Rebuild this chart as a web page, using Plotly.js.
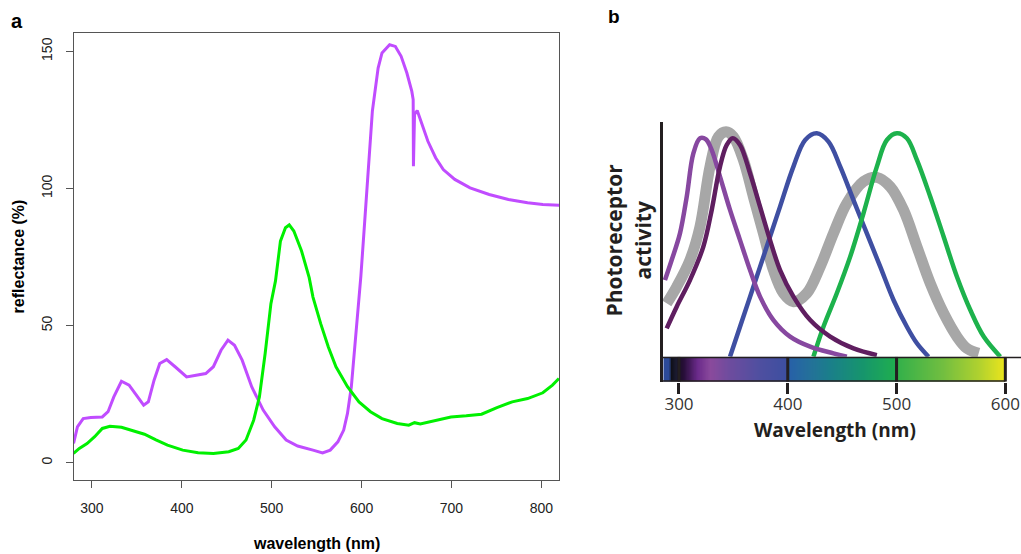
<!DOCTYPE html>
<html>
<head>
<meta charset="utf-8">
<script src="https://cdn.plot.ly/plotly-3.0.1.min.js"></script>
<style>html,body{margin:0;padding:0;background:#fff;}#chart{width:1021px;height:554px;}</style>
</head>
<body>
<div id="chart"></div>
<script>
// ---------- Panel a: reflectance spectra ----------
const purpleWl = [279.5,283.8,290.2,298.7,311.5,317.9,324.3,332.8,341.3,349.9,
  357.5,362.7,369.1,375.4,383.1,392.5,405.3,415.9,426.6,435.1,
  443.6,451.3,458.6,467.1,477.7,490.5,503.3,516.1,528.9,545.9,
  556.6,565.1,573.6,580.1,584.3,588.6,593.7,599.2,603.5,607.8,
  612.0,618.4,622.7,631.2,637.6,644.0,650.4,655.9,657.4,657.7,
  658.9,661.9,667.4,673.8,682.4,690.9,703.7,720.7,742.0,763.4,
  784.7,801.7,819.8];
const purpleRefl = [7.0,13.1,16.1,16.5,16.7,18.6,24.0,29.7,28.3,24.6,
  21.0,22.2,30.1,36.2,37.6,35.0,31.3,31.9,32.5,35.0,
  41.0,44.7,42.8,37.4,27.7,19.2,13.1,8.3,6.1,4.6,
  3.6,4.6,7.6,11.9,18.0,27.7,45.9,68.0,88.1,110.0,
  128.2,143.9,149.4,152.4,151.8,148.2,142.1,135.4,132.4,108.1,
  127.0,128.4,123.3,117.2,111.2,106.9,103.3,100.2,97.8,96.0,
  94.8,94.2,93.9];
const greenWl = [279.5,285.9,294.5,303.0,311.5,320.0,332.8,345.6,358.4,371.2,
  384.0,401.0,418.1,435.1,452.2,462.8,471.4,479.9,486.3,492.7,
  499.1,504.2,509.7,515.3,519.5,524.6,533.2,541.7,545.9,554.5,
  563.0,571.5,584.3,597.1,609.9,622.7,639.7,652.5,658.9,665.3,
  682.4,699.4,716.5,733.5,750.6,767.6,784.7,801.7,812.4,819.6];
const greenRefl = [3.4,5.2,7.0,9.5,12.5,13.3,12.9,11.7,10.4,8.3,
  6.4,4.6,3.6,3.4,4.0,5.2,8.3,15.5,24.0,39.8,
  58.0,66.3,80.8,85.7,86.7,84.5,77.2,67.5,60.4,50.7,
  42.2,35.0,27.7,22.2,18.6,16.1,14.3,13.7,14.6,14.1,
  15.5,16.7,17.1,17.7,20.1,22.2,23.4,25.5,28.3,30.7];
const aTicks = [300,400,500,600,700,800];
const aYTicks = [0,50,100,150];

// ---------- Panel b: photoreceptor sensitivity ----------
const lpWl  = [287.1,293.3,300.9,307.1,313.2,319.3,324.8,330.1,337.7,346.9,356.1,365.3,374.5,386.8,402.1,420.6,442.0,454.3];
const lpAct = [34.3,43.3,55.2,71.6,91.0,97.8,97.3,92.5,80.6,65.7,52.2,38.8,26.9,16.4,9.0,4.5,1.5,0];
const dpWl  = [288.7,297.9,310.1,322.4,330.1,337.7,343.9,349.4,356.1,365.3,374.5,383.7,392.9,405.2,420.6,439.0,460.4,481.9];
const dpAct = [12.7,22.4,34.3,49.3,65.7,85.1,94.8,97.8,94.8,82.1,67.2,52.2,38.8,26.9,16.4,9.0,3.7,0.7];
const greyWl  = [288.7,297.9,310.1,319.3,328.5,336.2,343.3,350.0,359.2,368.4,377.6,386.8,396.0,405.2,417.5,429.8,442.0,454.3,469.6,481.9,494.2,506.4,518.7,531.0,543.3,555.5,564.7,575.5];
const greyAct = [23.9,31.3,43.3,58.2,85.1,98.5,100.7,98.5,88.1,71.6,55.2,38.8,28.4,24.6,28.4,40.3,55.2,68.7,78.4,80.3,76.1,65.7,49.3,32.8,19.4,9.0,3.7,1.5];
const blueWl  = [346.9,356.1,368.4,380.7,392.9,405.2,416.0,426.7,437.4,448.2,460.4,472.7,485.0,497.2,509.5,518.7,529.4];
const blueAct = [0,13.4,31.3,49.3,67.2,85.1,97.0,100,96.3,85.1,70.1,55.2,40.3,25.4,13.4,6.0,0];
const gWl  = [423.6,432.8,445.1,457.4,469.6,481.9,491.1,500.3,509.5,518.7,531.0,543.3,555.5,567.8,580.1,595.4];
const gAct = [0,13.4,28.4,44.8,64.2,85.1,97.0,100,97.8,88.1,71.6,53.7,35.8,20.9,9.0,0];
const bTicks = [300,400,500,600];

// spectrum bar colour stops
const barWl = [286,291,293,297.5,300,305,317,329,347,374,399,401,420,439,469,499,501,543,577,600];
const barColors = ['#2c4a98','#2c4a98','#101018','#1a1a30','#1a0c26','#2a0f3c','#6a2a8a','#8a4a9c','#6d4c9e','#4f4fa0',
  '#3d4fa0','#2760a8','#24709a','#1a7f8a','#16956c','#1fae4f','#33b04a','#72be40','#b2d22e','#ece51c'];

// ---------- build ----------
const W = 1021, H = 554;
const px = v => v / W, py = v => 1 - v / H;

const bMin = barWl[0], bMax = barWl[barWl.length - 1];
const colorscale = barWl.map((w, i) => [(w - bMin) / (bMax - bMin), barColors[i]]);
const barX = [];
for (let w = bMin; w <= bMax; w += 0.5) barX.push(w);

const traces = [
  {x: purpleWl, y: purpleRefl, type: 'scatter', mode: 'lines', xaxis: 'x', yaxis: 'y',
   line: {color: '#c04cff', width: 3}, hoverinfo: 'skip'},
  {x: greenWl, y: greenRefl, type: 'scatter', mode: 'lines', xaxis: 'x', yaxis: 'y',
   line: {color: '#00f000', width: 3}, hoverinfo: 'skip'},

  {x: greyWl, y: greyAct, type: 'scatter', mode: 'lines', xaxis: 'x2', yaxis: 'y2',
   line: {color: '#a7a7a7', width: 11, shape: 'spline'}, hoverinfo: 'skip'},
  {x: blueWl, y: blueAct, type: 'scatter', mode: 'lines', xaxis: 'x2', yaxis: 'y2',
   line: {color: '#3f4fa2', width: 4.5, shape: 'spline'}, hoverinfo: 'skip'},
  {x: gWl, y: gAct, type: 'scatter', mode: 'lines', xaxis: 'x2', yaxis: 'y2',
   line: {color: '#1db24c', width: 4.5, shape: 'spline'}, hoverinfo: 'skip'},
  {x: lpWl, y: lpAct, type: 'scatter', mode: 'lines', xaxis: 'x2', yaxis: 'y2',
   line: {color: '#8748a0', width: 4.5, shape: 'spline'}, hoverinfo: 'skip'},
  {x: dpWl, y: dpAct, type: 'scatter', mode: 'lines', xaxis: 'x2', yaxis: 'y2',
   line: {color: '#5f1e60', width: 4.5, shape: 'spline'}, hoverinfo: 'skip'},

  {x: barX, y: [0.5], z: [barX], type: 'heatmap', xaxis: 'x2', yaxis: 'y3',
   colorscale: colorscale, zmin: bMin, zmax: bMax, showscale: false, hoverinfo: 'skip'}
];

const darkLine = '#231f20';
const shapes = [];
// spectrum bar outline
shapes.push({type: 'line', xref: 'x2', yref: 'y3', x0: 285.3, x1: 614.4, y0: 1, y1: 1, line: {color: darkLine, width: 3}});
shapes.push({type: 'line', xref: 'x2', yref: 'y3', x0: 285.3, x1: bTicks[bTicks.length - 1], y0: 0, y1: 0, line: {color: darkLine, width: 3}});
bTicks.forEach(t => shapes.push({type: 'line', xref: 'x2', yref: 'y3', x0: t, x1: t, y0: 0, y1: 1, line: {color: darkLine, width: 3}}));

const aFont = {family: 'Liberation Sans, Arial, sans-serif', size: 14, color: '#222'};
const bFont = {family: 'Open Sans, sans-serif', size: 17, color: '#333'};

const layout = {
  width: W, height: H,
  margin: {l: 0, r: 0, t: 0, b: 0},
  paper_bgcolor: '#fff', plot_bgcolor: 'rgba(0,0,0,0)',
  showlegend: false,
  xaxis: {domain: [px(74), px(559.3)], range: [280, 820], anchor: 'y',
    tickvals: aTicks, ticks: 'outside', ticklen: 7, tickcolor: '#555', tickwidth: 1,
    showline: true, mirror: true, linecolor: '#555', linewidth: 1,
    showgrid: false, zeroline: false, tickfont: aFont, ticklabelstandoff: 8},
  yaxis: {domain: [py(480), py(32.7)], range: [-6.3, 156.8], anchor: 'x',
    tickvals: aYTicks, ticks: 'outside', ticklen: 7, tickcolor: '#555', tickwidth: 1,
    showline: true, mirror: true, linecolor: '#555', linewidth: 1, tickangle: -90,
    showgrid: false, zeroline: false, tickfont: aFont, ticklabelstandoff: 8},
  xaxis2: {domain: [px(663), 1], range: [285.3, 614.4], anchor: 'y3',
    tickvals: bTicks, ticks: 'outside', ticklen: 11, tickwidth: 3, tickcolor: darkLine,
    showline: false, showgrid: false, zeroline: false, tickfont: bFont, ticklabelstandoff: -4},
  yaxis2: {domain: [py(356.7), py(121.7)], range: [0, 105.2], anchor: 'x2',
    showline: true, linecolor: darkLine, linewidth: 3, showticklabels: false, ticks: '',
    showgrid: false, zeroline: false},
  yaxis3: {domain: [py(381.7), py(356.7)], range: [0, 1], anchor: 'x2',
    showline: true, linecolor: darkLine, linewidth: 3, showticklabels: false, ticks: '',
    showgrid: false, zeroline: false, fixedrange: true},
  shapes: shapes,
  annotations: [
    {text: '<b>a</b>', xref: 'paper', yref: 'paper', x: px(16.7), y: py(21), showarrow: false,
     xanchor: 'center', yanchor: 'middle', font: {family: 'Liberation Sans, Arial, sans-serif', size: 20, color: '#000'}},
    {text: '<b>b</b>', xref: 'paper', yref: 'paper', x: px(613.5), y: py(17), showarrow: false,
     xanchor: 'center', yanchor: 'middle', font: {family: 'Liberation Sans, Arial, sans-serif', size: 19, color: '#000'}},
    {text: '<b>wavelength (nm)</b>', xref: 'paper', yref: 'paper', x: px(316.7), y: py(543), showarrow: false,
     xanchor: 'center', yanchor: 'middle', font: {family: 'Liberation Sans, Arial, sans-serif', size: 16, color: '#000'}},
    {text: '<b>reflectance (%)</b>', xref: 'paper', yref: 'paper', x: px(18), y: py(256.4), showarrow: false,
     textangle: -90, xanchor: 'center', yanchor: 'middle', font: {family: 'Liberation Sans, Arial, sans-serif', size: 16, color: '#000'}},
    {text: '<b>Wavelength (nm)</b>', xref: 'paper', yref: 'paper', x: px(835), y: py(430), showarrow: false,
     xanchor: 'center', yanchor: 'middle', font: {family: 'Open Sans, sans-serif', size: 19, color: darkLine}},
    {text: '<b>Photoreceptor</b>', xref: 'paper', yref: 'paper', x: px(613.5), y: py(240), showarrow: false,
     textangle: -90, xanchor: 'center', yanchor: 'middle', font: {family: 'Open Sans, sans-serif', size: 21, color: darkLine}},
    {text: '<b>activity</b>', xref: 'paper', yref: 'paper', x: px(642.5), y: py(241), showarrow: false,
     textangle: -90, xanchor: 'center', yanchor: 'middle', font: {family: 'Open Sans, sans-serif', size: 21, color: darkLine}}
  ]
};

Plotly.newPlot('chart', traces, layout, {staticPlot: true, displayModeBar: false});
</script>
</body>
</html>
